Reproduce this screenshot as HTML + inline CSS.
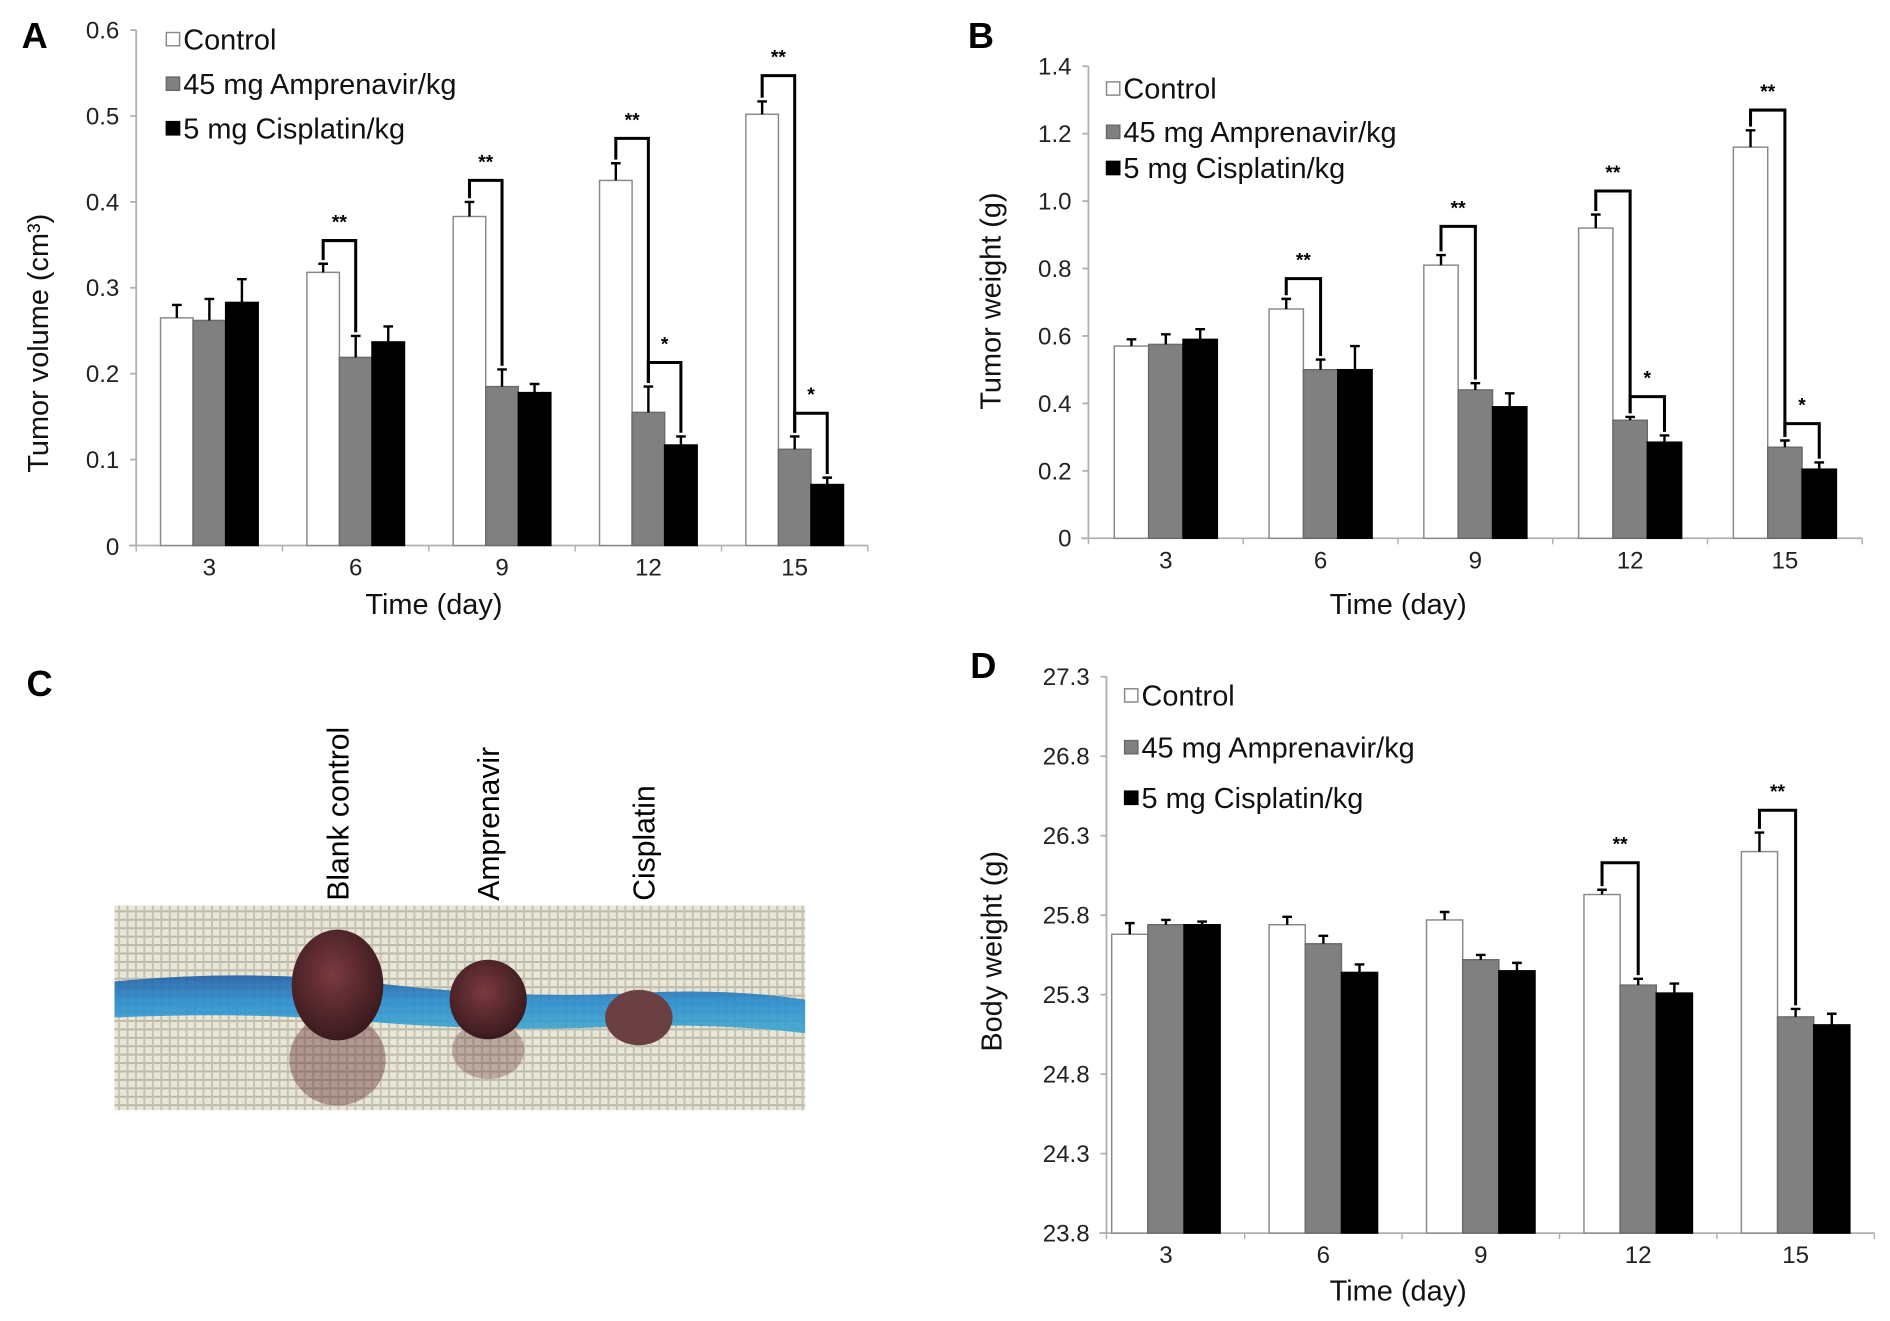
<!DOCTYPE html>
<html><head><meta charset="utf-8"><style>
html,body{margin:0;padding:0;background:#fff;}
svg{display:block;font-family:"Liberation Sans",Arial,sans-serif;}
</style></head><body>
<svg id="fig" width="1890" height="1321" viewBox="0 0 1568 1097" preserveAspectRatio="none" xmlns="http://www.w3.org/2000/svg">
<defs>
<pattern id="gauze" width="7" height="7" patternUnits="userSpaceOnUse">
<rect width="7" height="7" fill="#e9e6d8"/>
<rect x="0" y="0" width="7" height="1.6" fill="#b9b7a6"/>
<rect x="0" y="0" width="1.6" height="7" fill="#c4c1b0"/>
</pattern>
<linearGradient id="blue" x1="0" y1="0" x2="0" y2="1">
<stop offset="0" stop-color="#1e5fa8"/><stop offset="0.5" stop-color="#2b8fd0"/><stop offset="1" stop-color="#3aa7d0"/>
</linearGradient>
<radialGradient id="tum" cx="0.45" cy="0.4" r="0.6">
<stop offset="0" stop-color="#7a3a40"/><stop offset="1" stop-color="#3a1a1e"/>
</radialGradient>
</defs>
<g id="panelC">
<text x="22" y="578" font-size="30" font-weight="bold">C</text>
<rect x="95" y="752" width="573" height="170" fill="url(#gauze)"/>
<path d="M95,815 Q200,805 300,815 Q420,830 520,825 Q600,820 668,830 L668,858 Q600,850 520,852 Q420,858 300,848 Q200,840 95,845 Z" fill="url(#blue)" opacity="0.9"/>
<ellipse cx="280" cy="880" rx="40" ry="38" fill="#6a3a3c" opacity="0.45"/>
<ellipse cx="405" cy="872" rx="30" ry="24" fill="#6a3a3c" opacity="0.35"/>
<ellipse cx="280" cy="818" rx="38" ry="46" fill="url(#tum)"/>
<ellipse cx="405" cy="830" rx="32" ry="33" fill="url(#tum)"/>
<ellipse cx="530" cy="845" rx="28" ry="23" fill="#6a4042"/>
<text transform="translate(289,748) rotate(-90)" font-size="25">Blank control</text>
<text transform="translate(414,748) rotate(-90)" font-size="25">Amprenavir</text>
<text transform="translate(543,748) rotate(-90)" font-size="25">Cisplatin</text>
</g>
</svg>
<script>
const days = ["3","6","9","12","15"];
const seriesNames = ["Control","45 mg Amprenavir/kg","5 mg Cisplatin/kg"];
// Panel A
const aControl = [0.265,0.318,0.383,0.425,0.502];
const aAmp = [0.262,0.219,0.185,0.155,0.112];
const aCis = [0.283,0.237,0.178,0.117,0.071];
const aErrControl = [0.015,0.010,0.017,0.020,0.015];
const aErrAmp = [0.025,0.025,0.020,0.030,0.015];
const aErrCis = [0.027,0.018,0.010,0.010,0.008];
const aTicks = ["0","0.1","0.2","0.3","0.4","0.5","0.6"];
const aTickVals = [0,0.1,0.2,0.3,0.4,0.5,0.6];
const aSig = [[1,0,1,0.355,"**"],[2,0,1,0.425,"**"],[3,0,1,0.474,"**"],[3,1,2,0.213,"*"],[4,0,1,0.547,"**"],[4,1,2,0.154,"*"]];
// Panel B
const bControl = [0.57,0.68,0.81,0.92,1.16];
const bAmp = [0.575,0.50,0.44,0.35,0.27];
const bCis = [0.59,0.50,0.39,0.285,0.205];
const bErrControl = [0.02,0.03,0.03,0.04,0.05];
const bErrAmp = [0.03,0.03,0.02,0.01,0.02];
const bErrCis = [0.03,0.07,0.04,0.02,0.02];
const bTicks = ["0","0.2","0.4","0.6","0.8","1.0","1.2","1.4"];
const bTickVals = [0,0.2,0.4,0.6,0.8,1.0,1.2,1.4];
const bSig = [[1,0,1,0.77,"**"],[2,0,1,0.925,"**"],[3,0,1,1.03,"**"],[3,1,2,0.42,"*"],[4,0,1,1.27,"**"],[4,1,2,0.34,"*"]];
// Panel D
const dControl = [25.68,25.74,25.77,25.93,26.20];
const dAmp = [25.74,25.62,25.52,25.36,25.16];
const dCis = [25.74,25.44,25.45,25.31,25.11];
const dErrControl = [0.07,0.05,0.05,0.03,0.12];
const dErrAmp = [0.03,0.05,0.03,0.04,0.05];
const dErrCis = [0.02,0.05,0.05,0.06,0.07];
const dTicks = ["23.8","24.3","24.8","25.3","25.8","26.3","26.8","27.3"];
const dTickVals = [23.8,24.3,24.8,25.3,25.8,26.3,26.8,27.3];
const dSig = [[3,0,1,26.13,"**"],[4,0,1,26.46,"**"]];

const NS="http://www.w3.org/2000/svg";
const svg=document.getElementById('fig');
function mk(tag,attrs,parent,text){const e=document.createElementNS(NS,tag);for(const k in attrs)e.setAttribute(k,attrs[k]);if(text!==undefined)e.textContent=text;(parent||svg).appendChild(e);return e;}
const fills=["#ffffff","#808080","#000000"];
const strokes=["#888888","#6a6a6a","#000000"];

function panel(c){
  const g=mk('g',{});
  
  
  const ax=c.axisX!==undefined?c.axisX:c.x0;
  const y=v=>c.y0-(v-c.vmin)/(c.vmax-c.vmin)*(c.y0-c.y1);
  const cx=i=>c.x0+(i+0.5)*(c.x1-c.x0)/days.length;
  const ya=mk('line',{x1:ax,y1:c.y1,x2:ax,y2:c.y0,stroke:'#b0b0b0','stroke-width':1.5},g);
  
  
  const xa=mk('line',{x1:ax-6,y1:c.y0,x2:c.x1,y2:c.y0,stroke:'#b0b0b0','stroke-width':1.5},g);
  
  
  c.tickVals.forEach((v,i)=>{
    mk('line',{x1:ax-5,y1:y(v),x2:ax,y2:y(v),stroke:'#b0b0b0','stroke-width':1.5},g);
    const off=(i===0&&c.zeroLow)?8:7;
    const t=mk('text',{x:ax-14,y:y(v)+off,'text-anchor':'end','font-size':20,fill:'#222'},g,c.ticks[i]);
    
    
  });
  for(let i=0;i<=days.length;i++){const xx=Math.max(ax,c.x0+i*(c.x1-c.x0)/days.length);mk('line',{x1:xx,y1:c.y0,x2:xx,y2:c.y0+5,stroke:'#b0b0b0','stroke-width':1.2},g);}
  days.forEach((d,i)=>{
    const t=mk('text',{x:cx(i),y:c.y0+25,'text-anchor':'middle','font-size':20,fill:'#222'},g,d);
    
    
  });
  const bw=c.bw;
  c.series.forEach((s,si)=>{
    s.forEach((v,i)=>{
      const bx=cx(i)-1.5*bw+si*bw;
      const r=mk('rect',{x:bx,y:y(v),width:bw,height:c.y0-y(v),fill:fills[si],stroke:strokes[si],'stroke-width':1.2},g);
      
      
      const e=c.errs[si][i], mx=bx+bw/2;
      const eb=mk('path',{d:`M${mx},${y(v)} V${y(v+e)} M${mx-4},${y(v+e)} H${mx+4}`,stroke:'#000','stroke-width':2,fill:'none'},g);
      
      
    });
  });
  c.sig.forEach(s=>{
    const [i,a,b,v,lab]=s;
    const xa_=cx(i)-1.5*bw+a*bw+bw/2, xb=cx(i)-1.5*bw+b*bw+bw/2;
    const ya_=y(c.series[a][i]+c.errs[a][i])-3, yb=y(c.series[b][i]+c.errs[b][i])-3;
    const yt=y(v);
    const p=mk('path',{d:`M${xa_},${ya_} V${yt} H${xb} V${yb}`,stroke:'#000','stroke-width':2.5,fill:'none'},g);
    
    
    const t=mk('text',{x:(xa_+xb)/2,y:yt-10,'text-anchor':'middle','font-size':16,'font-weight':'bold'},g,lab);
    
    
  });
  c.legY.forEach((ly,si)=>{
    const sq=mk('rect',{x:c.legX,y:ly-14,width:11,height:11,fill:fills[si],stroke:strokes[si],'stroke-width':1.2},g);
    
    
    const t=mk('text',{x:c.legX+14,y:ly,'font-size':24,fill:'#111'},g,seriesNames[si]);
    
    
  });
  const yt=mk('text',{transform:`translate(${c.ylx},${c.yly}) rotate(-90)`,'text-anchor':'middle','font-size':24,fill:'#111'},g,c.ylabel);
  
  
  const xt=mk('text',{x:c.xlx,y:c.xly,'text-anchor':'middle','font-size':24,fill:'#111'},g,'Time (day)');
  
  
  const pl=mk('text',{x:c.plx,y:c.ply,'font-size':30,'font-weight':'bold'},g,c.letter);
  
  
}
panel({name:'panel-a-tumor-volume',letter:'A',plx:18,ply:40,x0:113,x1:720,y0:453,y1:25,vmin:0,vmax:0.6,bw:27,
  series:[aControl,aAmp,aCis],errs:[aErrControl,aErrAmp,aErrCis],ticks:aTicks,tickVals:aTickVals,sig:aSig,zeroLow:true,
  legX:138,legY:[41,78,115],ylabel:'Tumor  volume (cm³)',ylx:40,yly:285,xlx:360,xly:510});
panel({name:'panel-b-tumor-weight',letter:'B',plx:803,ply:40,x0:903,x1:1545,y0:447,y1:55,vmin:0,vmax:1.4,bw:28.5,
  series:[bControl,bAmp,bCis],errs:[bErrControl,bErrAmp,bErrCis],ticks:bTicks,tickVals:bTickVals,sig:bSig,
  legX:918,legY:[82,118,148],ylabel:'Tumor weight (g)',ylx:830,yly:250,xlx:1160,xly:510});
panel({name:'panel-d-body-weight',letter:'D',plx:805,ply:563,x0:902,x1:1555,axisX:918,y0:1024,y1:562,vmin:23.8,vmax:27.3,bw:30,
  series:[dControl,dAmp,dCis],errs:[dErrControl,dErrAmp,dErrCis],ticks:dTicks,tickVals:dTickVals,sig:dSig,
  legX:933,legY:[586,629,671],ylabel:'Body weight (g)',ylx:831,yly:790,xlx:1160,xly:1080});
</script>
</body></html>
